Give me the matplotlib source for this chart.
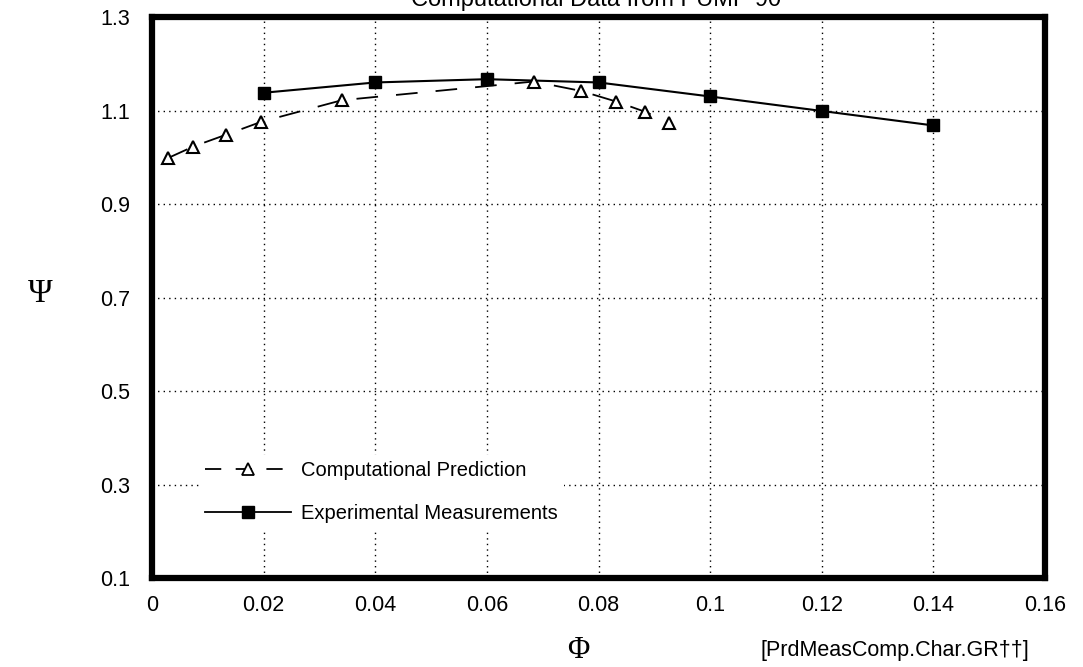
import matplotlib
matplotlib.use("Agg")
import matplotlib.pyplot as plt
from matplotlib.lines import Line2D

# computational prediction (triangles)
phi_comp = [0.0028, 0.0074, 0.0132, 0.0196, 0.034, 0.0684, 0.0768, 0.0832, 0.0884, 0.0927]
psi_comp = [0.998, 1.023, 1.048, 1.076, 1.122, 1.162, 1.142, 1.119, 1.097, 1.074]

# experimental measurements (squares)
phi_exp = [0.02, 0.04, 0.06, 0.08, 0.10, 0.12, 0.14]
psi_exp = [1.138, 1.160, 1.167, 1.160, 1.130, 1.099, 1.068]

xticks = [0, 0.02, 0.04, 0.06, 0.08, 0.1, 0.12, 0.14, 0.16]
xtick_labels = ["0", "0.02", "0.04", "0.06", "0.08", "0.1", "0.12", "0.14", "0.16"]
yticks = [0.1, 0.3, 0.5, 0.7, 0.9, 1.1, 1.3]

plt.rcParams['font.family'] = ['Liberation Sans', 'DejaVu Sans']

fig = plt.figure(figsize=(10.83, 6.67), dpi=100)
ax = fig.add_axes([0.1404, 0.1334, 0.8246, 0.8411])

ax.plot(phi_exp, psi_exp, '-', color='black', lw=1.5, marker='s', ms=9,
        mfc='black', mec='black', zorder=3)
ax.plot(phi_comp, psi_comp, color='black', lw=1.3, dashes=(12, 10),
        marker='^', ms=9, mfc='white', mec='black', mew=1.5, zorder=4)

ax.set_xlim(0, 0.16)
ax.set_ylim(0.1, 1.3)
ax.set_xticks(xticks)
ax.set_xticklabels(xtick_labels)
ax.set_yticks(yticks)
ax.set_yticklabels([f"{v:.1f}" for v in yticks])
ax.tick_params(length=0, labelsize=15.5)
ax.tick_params(axis='y', pad=16)
ax.tick_params(axis='x', pad=12)

ax.grid(True, color='black', ls=(0, (1, 3)), lw=1.0)
for s in ax.spines.values():
    s.set_linewidth(4.5)

handles = [
    Line2D([], [], color='black', lw=1.3, dashes=(9, 8), marker='^', ms=8,
           mfc='white', mec='black', mew=1.3),
    Line2D([], [], color='black', lw=1.3, marker='s', ms=8, mfc='black', mec='black'),
]
leg = ax.legend(handles, ["Computational Prediction", "Experimental Measurements"],
                loc='lower left', bbox_to_anchor=(0.041, 0.07), frameon=True,
                fontsize=14.5, handlelength=4.3, handletextpad=0.5,
                labelspacing=1.15, borderpad=0.3)
leg.get_frame().set_edgecolor('none')
leg.get_frame().set_facecolor('white')
leg.get_frame().set_alpha(1)

fig.text(0.037, 0.559, "Ψ", fontsize=24, family=['Liberation Serif', 'DejaVu Serif'],
         ha='center', va='center')
fig.text(0.534, 0.024, "Φ", fontsize=22, family=['Liberation Serif', 'DejaVu Serif'],
         ha='center', va='center')
fig.text(0.702, 0.025, "[PrdMeasComp.Char.GR††]", fontsize=15.5, ha='left', va='center')
fig.text(0.55, 1 - 6 / 667, "Computational Data from PUMP 90", fontsize=17,
         ha='center', va='baseline')

fig.savefig("out.png", dpi=100)
